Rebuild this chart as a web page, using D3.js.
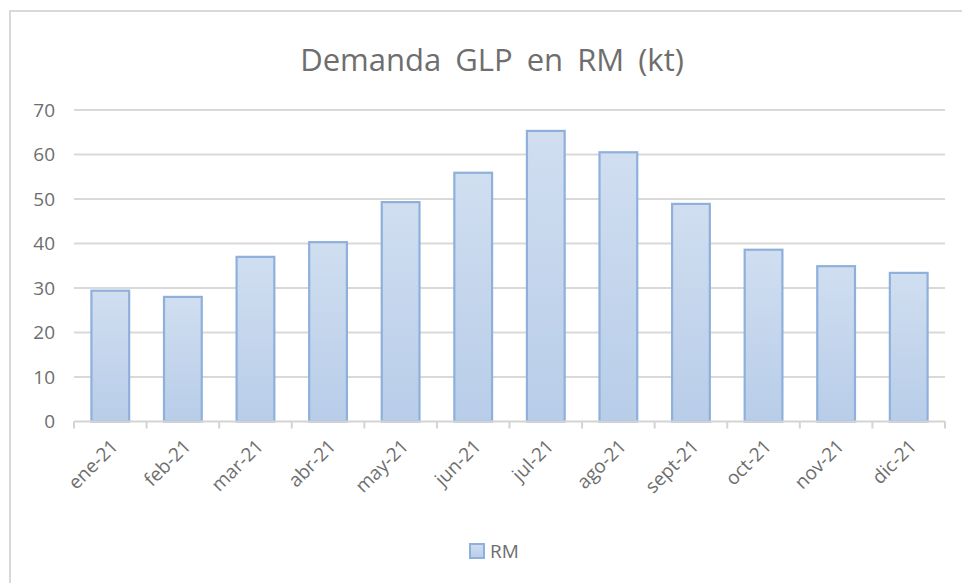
<!DOCTYPE html>
<html>
<head>
<meta charset="utf-8">
<script src="https://cdn.jsdelivr.net/npm/d3@7"></script>
<style>
  body { margin: 0; background: #fff; }
  text { font-family: "Open Sans", "Liberation Sans", sans-serif; }
</style>
</head>
<body>
<div class="container"></div>
<script>
// chart data
var months = ["ene-21", "feb-21", "mar-21", "abr-21", "may-21", "jun-21",
              "jul-21", "ago-21", "sept-21", "oct-21", "nov-21", "dic-21"];
var demanda = [29.4, 28.0, 37.0, 40.3, 49.3, 55.9, 65.3, 60.5, 48.9, 38.6, 34.9, 33.4];
var yTicks = [0, 10, 20, 30, 40, 50, 60, 70];

var opts = {
  width: 962,
  height: 583,
  left: 74,
  right: 945,
  top: 110,
  bottom: 421.5
};

var svg = d3.select(".container")
  .append("svg")
  .attr("width", opts.width)
  .attr("height", opts.height);

// outer chart frame (right/bottom edges fall outside the picture)
svg.append("rect")
  .attr("x", 10).attr("y", 11)
  .attr("width", 980).attr("height", 600)
  .attr("fill", "#fff")
  .attr("stroke", "#d9d9d9")
  .attr("stroke-width", 2);

var defs = svg.append("defs");
var grad = defs.append("linearGradient")
  .attr("id", "barGrad")
  .attr("x1", 0).attr("y1", 0).attr("x2", 0).attr("y2", 1);
grad.append("stop").attr("offset", "0%").attr("stop-color", "#d0def0");
grad.append("stop").attr("offset", "100%").attr("stop-color", "#b8cde9");

var x = d3.scaleBand()
  .domain(months)
  .range([opts.left, opts.right])
  .paddingInner(0.48)
  .paddingOuter(0.24);

var y = d3.scaleLinear()
  .domain([0, 70])
  .range([opts.bottom, opts.top]);

// title
svg.append("text")
  .attr("x", 492)
  .attr("y", 71)
  .attr("text-anchor", "middle")
  .attr("fill", "#6e6e6e")
  .style("font-size", "31px")
  .style("word-spacing", "6px")
  .text("Demanda GLP en RM (kt)");

// gridlines
svg.append("g").selectAll("line")
  .data(yTicks.filter(function(d){ return d > 0; }))
  .enter().append("line")
  .attr("x1", opts.left).attr("x2", opts.right)
  .attr("y1", function(d){ return y(d); })
  .attr("y2", function(d){ return y(d); })
  .attr("stroke", "#d9d9d9")
  .attr("stroke-width", 2);

// y axis labels
var yAxis = svg.append("g")
  .attr("transform", "translate(" + (opts.left - 19) + ",0)")
  .call(d3.axisLeft(y).tickValues(yTicks).tickSize(0).tickPadding(0));
yAxis.select(".domain").remove();
yAxis.selectAll("text")
  .attr("fill", "#6e6e6e")
  .style("font-size", "19px");

// bars
svg.append("g").selectAll("rect")
  .data(demanda)
  .enter().append("rect")
  .attr("x", function(d, i){ return x(months[i]); })
  .attr("y", function(d){ return y(d); })
  .attr("width", x.bandwidth())
  .attr("height", function(d){ return y(0) - y(d); })
  .attr("fill", "url(#barGrad)")
  .attr("stroke", "#8eb0db")
  .attr("stroke-width", 2.2);

// x axis
var step = x.step();
var xAxis = svg.append("g")
  .attr("transform", "translate(0," + opts.bottom + ")");
xAxis.append("line")
  .attr("x1", opts.left).attr("x2", opts.right)
  .attr("stroke", "#d4d4d4").attr("stroke-width", 2);
xAxis.selectAll("line.tick")
  .data(d3.range(months.length + 1))
  .enter().append("line")
  .attr("class", "tick")
  .attr("x1", function(i){ return opts.left + i * step; })
  .attr("x2", function(i){ return opts.left + i * step; })
  .attr("y1", 0).attr("y2", 7)
  .attr("stroke", "#d4d4d4").attr("stroke-width", 2);
xAxis.selectAll("text")
  .data(months)
  .enter().append("text")
  .attr("text-anchor", "end")
  .attr("fill", "#6e6e6e")
  .style("font-size", "19px")
  .attr("transform", function(d){
    var cx = x(d) + x.bandwidth() / 2 + 9;
    return "translate(" + cx + ",26) rotate(-45)";
  })
  .text(function(d){ return d; });

// legend
var legend = svg.append("g").attr("transform", "translate(470,544)");
legend.append("rect")
  .attr("width", 14).attr("height", 14)
  .attr("fill", "url(#barGrad)")
  .attr("stroke", "#8eb0db")
  .attr("stroke-width", 2);
legend.append("text")
  .attr("x", 20).attr("y", 14)
  .attr("fill", "#6e6e6e")
  .style("font-size", "19px")
  .text("RM");
</script>
</body>
</html>
